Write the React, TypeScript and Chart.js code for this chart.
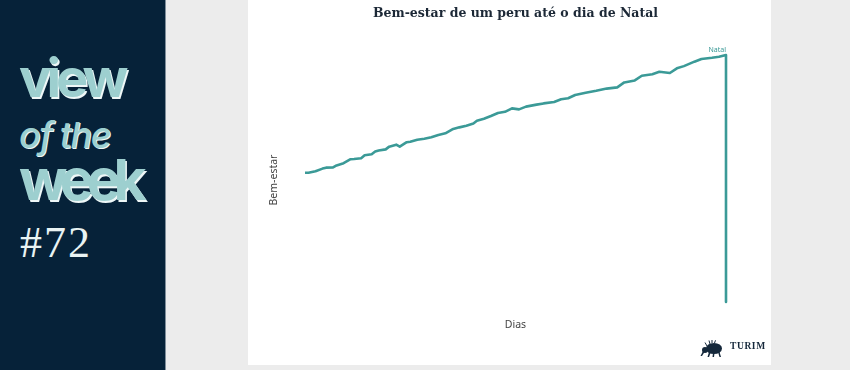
import React, { useEffect, useRef } from "react";
import { Chart, registerables } from "chart.js";

Chart.register(...registerables);

const chartTitle = "Bem-estar de um peru até o dia de Natal";
const xAxisLabel = "Dias";
const yAxisLabel = "Bem-estar";
const peakLabel = "Natal";

const days = [
  0, 1, 3, 5, 6, 8, 9, 11, 13, 14, 16, 17, 19, 20, 21, 23, 24, 26, 27, 29, 30,
  32, 34, 36, 38, 40, 42, 44, 46, 48, 49, 51, 53, 55, 57, 59, 61, 63, 66, 68,
  71, 73, 75, 77, 80, 83, 86, 89, 91, 94, 96, 99, 101, 104, 106, 108, 111, 113,
  116, 118, 120, 120,
];
const wellbeing = [
  52.3, 52.3, 52.9, 54.0, 54.4, 54.5, 55.3, 56.2, 57.8, 57.9, 58.2, 59.4, 59.8,
  60.9, 61.3, 61.8, 62.9, 63.7, 62.9, 64.7, 64.9, 65.7, 66.1, 66.7, 67.6, 68.3,
  69.9, 70.7, 71.4, 72.3, 73.4, 74.2, 75.3, 76.5, 77.0, 78.4, 78.0, 79.1, 79.9,
  80.4, 81.0, 82.1, 82.5, 83.8, 84.7, 85.5, 86.4, 86.9, 88.9, 89.7, 91.6, 92.2,
  93.2, 92.7, 94.6, 95.5, 97.3, 98.4, 98.9, 99.3, 100, 0,
];

const TEAL = "#3b9a97";
const NAVY = "#062239";

export default function App() {
  const ref = useRef<HTMLCanvasElement>(null);

  useEffect(() => {
    if (!ref.current) return;
    const labelsPlugin = {
      id: "customLabels",
      afterDraw(chart: any) {
        const { ctx, chartArea, scales } = chart;
        ctx.save();
        ctx.fillStyle = "#444444";
        ctx.font = "10.5px 'Noto Sans', sans-serif";
        ctx.textAlign = "center";
        ctx.textBaseline = "middle";
        ctx.fillText(xAxisLabel, (chartArea.left + chartArea.right) / 2, chartArea.bottom + 23);
        ctx.save();
        ctx.translate(chartArea.left - 31, (chartArea.top + chartArea.bottom) / 2 + 1.5);
        ctx.rotate(-Math.PI / 2);
        ctx.fillText(yAxisLabel, 0, 0);
        ctx.restore();
        const last = days.length - 2;
        const px = scales.x.getPixelForValue(days[last]);
        const py = scales.y.getPixelForValue(wellbeing[last]);
        ctx.fillStyle = TEAL;
        ctx.font = "7px 'Noto Sans', sans-serif";
        ctx.textAlign = "right";
        ctx.textBaseline = "alphabetic";
        ctx.fillText(peakLabel, px, py - 3.5);
        ctx.restore();
      },
    };

    const chart = new Chart(ref.current, {
      type: "line",
      data: {
        datasets: [
          {
            data: days.map((d, i) => ({ x: d, y: wellbeing[i] })),
            borderColor: TEAL,
            borderWidth: 2.6,
            pointRadius: 0,
            tension: 0,
            clip: false as any,
            borderJoinStyle: "round",
          },
        ],
      },
      options: {
        responsive: false,
        animation: false,
        layout: { padding: { left: 57, right: 45, top: 0, bottom: 63 } },
        plugins: {
          legend: { display: false },
          tooltip: { enabled: false },
          title: {
            display: true,
            text: chartTitle,
            color: "#1c2836",
            font: { family: "'DejaVu Serif', serif", size: 12.5, weight: "bold" },
            padding: { top: 6, bottom: 34 },
          },
        },
        scales: {
          x: { type: "linear", display: false, min: 0, max: 120 },
          y: { type: "linear", display: false, min: 0, max: 100 },
        },
      },
      plugins: [labelsPlugin],
    } as any);
    return () => chart.destroy();
  }, []);

  const bigStyle: React.CSSProperties = {
    position: "absolute",
    left: 19,
    margin: 0,
    lineHeight: 1,
    fontFamily: "Inter, 'Noto Sans', sans-serif",
    color: "#9dcfcf",
    textShadow: "1.5px 1.5px 0 #eef7f7",
    whiteSpace: "nowrap",
  };

  return (
    <div
      style={{
        position: "fixed",
        left: 0,
        top: 0,
        width: 850,
        height: 370,
        background: "#ececec",
        overflow: "hidden",
      }}
    >
      <div
        style={{
          position: "absolute",
          left: 0,
          top: 0,
          width: 165,
          height: 370,
          background: NAVY,
          borderRight: "1px solid #7f8e9b",
        }}
      >
        <div style={{ ...bigStyle, top: 51, fontSize: 54, fontWeight: 700, letterSpacing: -5 }}>view</div>
        <div style={{ ...bigStyle, top: 117, fontSize: 36, fontWeight: 500, fontStyle: "italic", letterSpacing: -1.5, textShadow: "1px 1px 0 #eef7f7" }}>of the</div>
        <div style={{ ...bigStyle, top: 151, fontSize: 57, fontWeight: 700, letterSpacing: -7 }}>week</div>
        <div
          style={{
            ...bigStyle,
            top: 221,
            left: 20,
            fontSize: 44,
            fontWeight: 400,
            fontFamily: "'Liberation Serif', serif",
            letterSpacing: 2,
            color: "#e9f3f3",
            textShadow: "none",
          }}
        >
          #72
        </div>
      </div>
      <div
        style={{
          position: "absolute",
          left: 248,
          top: 0,
          width: 523,
          height: 365,
          background: "#ffffff",
        }}
      >
        <canvas ref={ref} width={523} height={365} style={{ display: "block" }} />
        <svg
          width={24}
          height={18}
          viewBox="0 0 24 18"
          style={{ position: "absolute", left: 452, top: 340 }}
        >
          <ellipse cx={14} cy={8.5} rx={8} ry={5.5} fill="#15283b" />
          <circle cx={5} cy={10} r={3} fill="#15283b" />
          <path d="M3 11 L0.5 16 L2 16 L4.5 12 Z" fill="#15283b" />
          <path d="M9 12 L7.5 17 L9 17 L10.5 13 Z M18 12 L19.5 17 L21 17 L19.5 12 Z M13 13 L12.5 17 L14 17 L14.5 13 Z" fill="#15283b" />
          <path d="M10 4 L9 0.5 M12 3.2 L12 0 M14.5 3 L15.5 0.3 M7 6 L5 2.5" stroke="#15283b" strokeWidth={1} />
        </svg>
        <div
          style={{
            position: "absolute",
            left: 482,
            top: 342,
            fontFamily: "'Liberation Serif', serif",
            fontWeight: 700,
            fontSize: 9.5,
            letterSpacing: 0.6,
            lineHeight: 1,
            color: "#15283b",
          }}
        >
          TURIM
        </div>
      </div>
    </div>
  );
}
